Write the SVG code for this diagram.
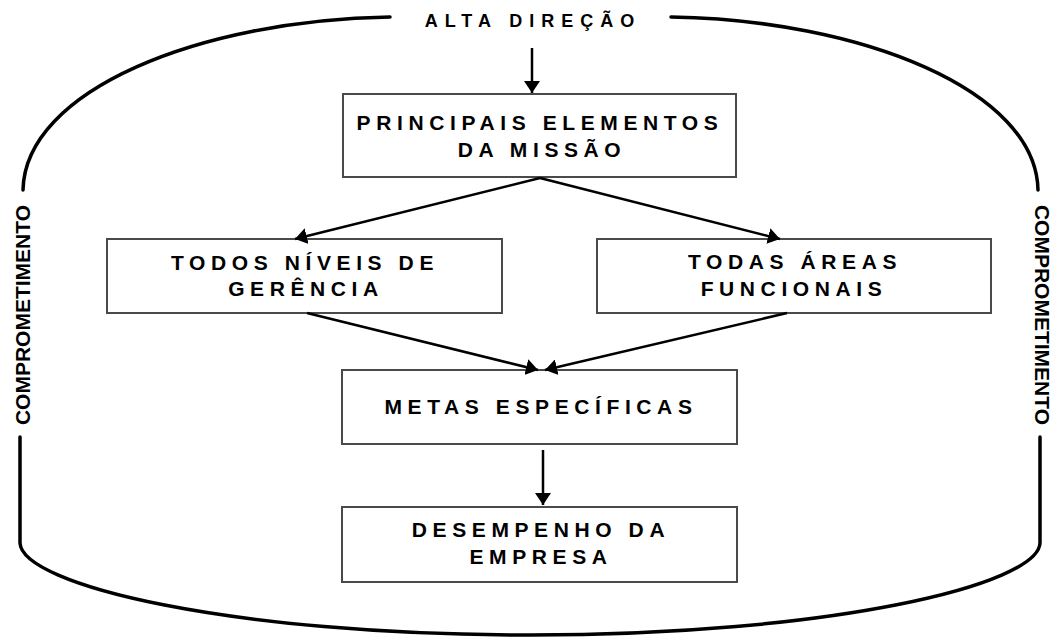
<svg xmlns="http://www.w3.org/2000/svg" width="1053" height="638" viewBox="0 0 1053 638">
  <style>
    .box { fill: #ffffff; stroke: #4a4a4a; stroke-width: 2; }
    .lbl { font-family: "Liberation Sans", Arial, sans-serif; font-weight: bold; font-size: 21px; fill: #000; text-anchor: middle; letter-spacing: 5.6px; }
    .top { font-size: 18px; letter-spacing: 7px; }
    .side { font-family: "Liberation Sans", Arial, sans-serif; font-weight: bold; font-size: 21px; fill: #000; text-anchor: middle; }
    .conn { fill: none; stroke: #000; stroke-width: 2.5; marker-end: url(#arrow); }
    .frame { fill: none; stroke: #000; stroke-width: 3.5; stroke-linecap: round; }
  </style>
  <defs>
    <marker id="arrow" viewBox="0 0 12 16" refX="12" refY="8" markerWidth="12" markerHeight="16" markerUnits="userSpaceOnUse" orient="auto">
      <path d="M0,0 L12,8 L0,16 z" fill="#000"/>
    </marker>
  </defs>
  <rect width="1053" height="638" fill="#ffffff"/>

  <g id="frame">
    <path class="frame" d="M390,17 C200,20 25,90 23,190"/>
    <path class="frame" d="M671,17 C861,20 1036,90 1038,190"/>
    <path class="frame" d="M20,437 L20,543 C22,585 230,635 530,635 C830,635 1038,585 1040,543 L1040,437"/>
  </g>

  <g id="alta-direcao">
    <text class="lbl top" x="533" y="27">ALTA DIREÇÃO</text>
  </g>
  <g id="comprometimento-esq">
    <text class="side" transform="translate(30,315) rotate(-90)">COMPROMETIMENTO</text>
  </g>
  <g id="comprometimento-dir">
    <text class="side" transform="translate(1035,315) rotate(90)">COMPROMETIMENTO</text>
  </g>

  <g id="principais">
    <rect class="box" x="343" y="94" width="393" height="83"/>
    <text class="lbl" x="540" y="130">PRINCIPAIS ELEMENTOS</text>
    <text class="lbl" x="542" y="157">DA MISSÃO</text>
  </g>
  <g id="niveis">
    <rect class="box" x="107" y="239" width="395" height="74"/>
    <text class="lbl" x="305" y="270">TODOS NÍVEIS DE</text>
    <text class="lbl" x="306" y="296">GERÊNCIA</text>
  </g>
  <g id="areas">
    <rect class="box" x="597" y="239" width="394" height="74"/>
    <text class="lbl" x="795" y="269">TODAS ÁREAS</text>
    <text class="lbl" x="794" y="296">FUNCIONAIS</text>
  </g>
  <g id="metas">
    <rect class="box" x="342" y="370" width="395" height="74"/>
    <text class="lbl" x="541" y="414">METAS ESPECÍFICAS</text>
  </g>
  <g id="desempenho">
    <rect class="box" x="342" y="507" width="395" height="75"/>
    <text class="lbl" x="541" y="537">DESEMPENHO DA</text>
    <text class="lbl" x="541" y="564">EMPRESA</text>
  </g>

  <g id="connectors">
    <line class="conn" x1="532" y1="48" x2="532" y2="93"/>
    <line class="conn" x1="540" y1="178" x2="295" y2="239"/>
    <line class="conn" x1="540" y1="178" x2="780" y2="239"/>
    <line class="conn" x1="307" y1="313" x2="538" y2="370"/>
    <line class="conn" x1="787" y1="313" x2="545" y2="370"/>
    <line class="conn" x1="543" y1="450" x2="543" y2="505"/>
  </g>
</svg>
